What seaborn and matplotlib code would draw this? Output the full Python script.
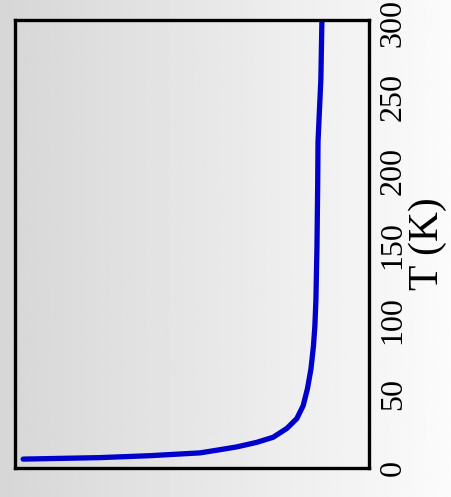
import numpy as np
import matplotlib
matplotlib.use("Agg")
import matplotlib.pyplot as plt
import seaborn as sns
import pandas as pd

# temperature (K) and susceptibility (arbitrary units)
temp = [6.0, 7.0, 8.3, 10.2, 12.0, 14.2, 17.3, 20.7, 26.7, 33.3, 42.0,
        53.3, 66.7, 82.0, 95.3, 113.0, 149.0, 190.0, 220.0, 262.0, 302.0]
chi = [0.977, 0.760, 0.619, 0.477, 0.430, 0.374, 0.317, 0.271, 0.232, 0.204, 0.186,
       0.174, 0.164, 0.157, 0.153, 0.150, 0.147, 0.145, 0.144, 0.136, 0.133]
t_ticks = [0, 50, 100, 150, 200, 250, 300]


def main():
    sns.set_style("white")
    plt.rcParams["font.family"] = ["Liberation Serif", "DejaVu Serif"]
    plt.rcParams["text.color"] = "black"
    plt.rcParams["axes.labelcolor"] = "black"
    plt.rcParams["ytick.color"] = "black"

    df = pd.DataFrame({"T": temp, "chi": chi})

    fig = plt.figure(figsize=(4.52, 4.97), dpi=100)

    # grey-to-white background gradient
    bg = fig.add_axes([0, 0, 1, 1])
    grad = np.linspace(0.84, 0.985, 256).reshape(1, -1)
    bg.imshow(grad, cmap="gray", vmin=0, vmax=1, aspect="auto", extent=[0, 1, 0, 1])
    bg.set_axis_off()

    ax = fig.add_axes([15 / 452, 29 / 497, 354 / 452, 448 / 497])
    ax.set_facecolor("none")
    sns.lineplot(data=df, x="chi", y="T", sort=False, estimator=None,
                 color="#0000cc", linewidth=3.8, ax=ax)

    ax.set_xlim(1.0, 0.0)
    ax.set_ylim(3.33, 302)
    ax.set_xticks([])
    ax.set_xlabel("")
    ax.yaxis.tick_right()
    ax.yaxis.set_label_position("right")
    ax.set_yticks(t_ticks)
    ax.tick_params(axis="y", length=0, pad=7, labelsize=23, labelrotation=90,
                   labelcolor="black")
    for lab in ax.get_yticklabels():
        lab.set_va("center")
    ax.set_ylabel("T (K)", fontsize=30, color="black")
    ax.yaxis.set_label_coords(1.112, 0.5)

    for sp in ax.spines.values():
        sp.set_visible(True)
        sp.set_color("black")
        sp.set_linewidth(2.4)

    fig.savefig("out.png", dpi=100)


if __name__ == "__main__":
    main()
